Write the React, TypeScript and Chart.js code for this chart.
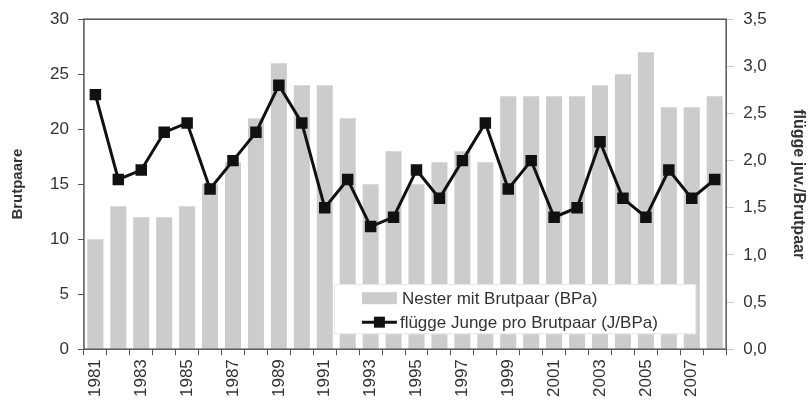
import React, { useEffect, useRef } from "react";
import { Chart, registerables } from "chart.js";

Chart.register(...registerables);

const years = [
  "1981", "1982", "1983", "1984", "1985", "1986", "1987", "1988", "1989", "1990",
  "1991", "1992", "1993", "1994", "1995", "1996", "1997", "1998", "1999", "2000",
  "2001", "2002", "2003", "2004", "2005", "2006", "2007", "2008",
];
const nesterMitBrutpaar = [
  10, 13, 12, 12, 13, 15, 17, 21, 26, 24,
  24, 21, 15, 18, 15, 17, 18, 17, 23, 23,
  23, 23, 24, 25, 27, 22, 22, 23,
];
const fluggeJungeProBrutpaar = [
  2.7, 1.8, 1.9, 2.3, 2.4, 1.7, 2.0, 2.3, 2.8, 2.4,
  1.5, 1.8, 1.3, 1.4, 1.9, 1.6, 2.0, 2.4, 1.7, 2.0,
  1.4, 1.5, 2.2, 1.6, 1.4, 1.9, 1.6, 1.8,
];
const barLabel = "Nester mit Brutpaar (BPa)";
const lineLabel = "flügge Junge pro Brutpaar (J/BPa)";
const leftTitle = "Brutpaare";
const rightTitle = "flügge juv./Brutpaar";

const FONT = "Arial, 'Liberation Sans', Helvetica, sans-serif";
const BAR_COLOR = "#cccccc";
const LINE_COLOR = "#111111";
const TEXT_COLOR = "#333333";
const AXIS_COLOR = "#555555";

const boxAndLegend = {
  id: "boxAndLegend",
  afterDatasetsDraw(chart: any) {
    const { ctx, chartArea } = chart;
    const { left, right, bottom } = chartArea;
    ctx.save();
    const lx = left + 250;
    const lr = right - 30;
    const ly = bottom - 65;
    const lb = bottom - 15;
    ctx.fillStyle = "#ffffff";
    ctx.fillRect(lx, ly, lr - lx, lb - ly);
    ctx.strokeStyle = "#e6e6e6";
    ctx.lineWidth = 1;
    ctx.strokeRect(lx + 0.5, ly + 0.5, lr - lx - 1, lb - ly - 1);
    const sx = lx + 28;
    const sw = 35;
    const row1 = ly + 14;
    const row2 = ly + 38;
    ctx.fillStyle = BAR_COLOR;
    ctx.fillRect(sx, row1 - 6, sw, 12);
    ctx.fillStyle = TEXT_COLOR;
    ctx.font = "17px " + FONT;
    ctx.textBaseline = "middle";
    ctx.textAlign = "left";
    ctx.fillText(barLabel, sx + sw + 5, row1 + 1);
    ctx.strokeStyle = LINE_COLOR;
    ctx.lineWidth = 3;
    ctx.beginPath();
    ctx.moveTo(sx, row2);
    ctx.lineTo(sx + sw, row2);
    ctx.stroke();
    ctx.fillStyle = LINE_COLOR;
    ctx.fillRect(sx + sw / 2 - 5.5, row2 - 5.5, 11, 11);
    ctx.fillStyle = TEXT_COLOR;
    ctx.fillText(lineLabel, sx + sw + 3, row2 + 1);
    ctx.restore();
  },
  afterDraw(chart: any) {
    const { ctx, chartArea } = chart;
    const { left, right, top, bottom } = chartArea;
    ctx.save();
    ctx.strokeStyle = AXIS_COLOR;
    ctx.lineWidth = 1.5;
    ctx.strokeRect(left, top, right - left, bottom - top);
    ctx.restore();
  },
};

export default function App() {
  const ref = useRef<HTMLCanvasElement | null>(null);
  useEffect(() => {
    if (!ref.current) return;
    const chart = new Chart(ref.current, {
      type: "bar",
      data: {
        labels: years,
        datasets: [
          {
            type: "line",
            label: lineLabel,
            data: fluggeJungeProBrutpaar,
            yAxisID: "y1",
            borderColor: LINE_COLOR,
            backgroundColor: LINE_COLOR,
            borderWidth: 3,
            pointStyle: "rect",
            pointRadius: 6,
            pointBackgroundColor: LINE_COLOR,
            pointBorderColor: LINE_COLOR,
            tension: 0,
            order: 0,
          } as any,
          {
            type: "bar",
            label: barLabel,
            data: nesterMitBrutpaar,
            yAxisID: "y",
            backgroundColor: BAR_COLOR,
            borderWidth: 0,
            barPercentage: 0.7,
            categoryPercentage: 1,
            order: 1,
          },
        ],
      },
      options: {
        animation: false,
        responsive: true,
        maintainAspectRatio: false,
        layout: { padding: { top: 8, right: 0, left: 9, bottom: 7 } },
        plugins: {
          legend: { display: false },
          tooltip: { enabled: false },
        },
        scales: {
          x: {
            offset: true,
            grid: {
              offset: true,
              drawOnChartArea: false,
              drawTicks: true,
              tickLength: 6,
              color: AXIS_COLOR,
            },
            border: { display: false },
            ticks: {
              autoSkip: false,
              maxRotation: 90,
              minRotation: 90,
              padding: 4,
              color: TEXT_COLOR,
              font: { family: FONT, size: 17 },
              callback: (_v: any, i: number) => (i % 2 === 0 ? years[i] : ""),
            },
          },
          y: {
            position: "left",
            min: 0,
            max: 30,
            ticks: {
              stepSize: 5,
              padding: 9,
              color: TEXT_COLOR,
              font: { family: FONT, size: 17 },
            },
            grid: {
              drawOnChartArea: false,
              tickLength: 6,
              color: AXIS_COLOR,
            },
            border: { display: false },
            title: {
              display: true,
              text: leftTitle,
              color: TEXT_COLOR,
              font: { family: FONT, size: 15, weight: "bold" },
              padding: { top: 0, bottom: 14 },
            },
          },
          y1: {
            position: "right",
            min: 0,
            max: 3.5,
            ticks: {
              stepSize: 0.5,
              padding: 9,
              color: TEXT_COLOR,
              font: { family: FONT, size: 17 },
              callback: (v: any) => Number(v).toFixed(1).replace(".", ","),
            },
            grid: {
              drawOnChartArea: false,
              tickLength: 8,
              color: "#cfcfcf",
            },
            border: { display: false },
            title: {
              display: true,
              text: rightTitle,
              color: TEXT_COLOR,
              font: { family: FONT, size: 16, weight: "bold" },
              padding: { top: 0, bottom: 13 },
            },
          },
        },
      },
      plugins: [boxAndLegend],
    });
    return () => chart.destroy();
  }, []);
  return (
    <div style={{ position: "absolute", left: 0, top: 0, width: 808, height: 408 }}>
      <canvas ref={ref} />
    </div>
  );
}
